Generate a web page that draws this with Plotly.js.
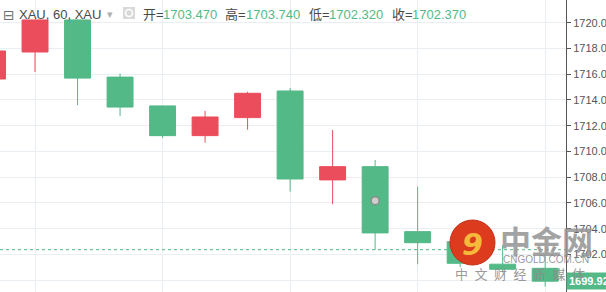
<!DOCTYPE html>
<html>
<head>
<meta charset="utf-8">
<script src="https://cdn.plot.ly/plotly-3.0.1.min.js"></script>
<style>
html,body{margin:0;padding:0;background:#fff;}
#chart{width:606px;height:292px;}
</style>
</head>
<body>
<div id="chart"></div>
<script>
// ---- data (XAU, 60 min candles) ----
var barIndex = [0,1,2,3,4,5,6,7,8,9,10,11,12,13];
var opens  = [1715.63,1717.73,1720.22,1715.78,1713.54,1711.23,1712.63,1714.70,1707.79,1708.82,1703.77,1702.99,1701.24,1700.92];
var highs  = [1718.00,1720.25,1720.25,1716.05,1713.54,1713.15,1714.64,1714.93,1711.67,1709.34,1707.27,1703.10,1702.73,1701.96];
var lows   = [1715.40,1716.18,1713.60,1712.75,1711.05,1710.68,1711.69,1706.88,1705.90,1702.35,1701.24,1701.00,1700.60,1699.50];
var closes = [1717.81,1720.22,1715.70,1713.45,1711.23,1712.68,1714.52,1707.86,1708.82,1703.67,1702.91,1701.31,1700.85,1699.92];
var yTicks = [1700,1702,1704,1706,1708,1710,1712,1714,1716,1718,1720];
var yTickText = ["1700.00","1702.00","1704.00","1706.00","1708.00","1710.00","1712.00","1714.00","1716.00","1718.00","1720.00"];
var xGrid = [1,4,7,10,13];
var header = {symbol:"XAU, 60, XAU", open:"1703.470", high:"1703.740", low:"1702.320", close:"1702.370"};
var lastPrice = 1699.92;
var lastPriceText = "1699.92";
var guidePrice = 1702.37;
var markerBar = [9];
var markerPrice = [1706.18];

var UP = '#eb4d5c', DOWN = '#53b987';
var W = 606, H = 292, PW = 566;
function px(x){ return x/PW; }
function py(y){ return 1 - y/H; }

var traces = [
  {
    type:'candlestick', x:barIndex, open:opens, high:highs, low:lows, close:closes,
    increasing:{line:{color:UP,width:1}, fillcolor:UP},
    decreasing:{line:{color:DOWN,width:1}, fillcolor:DOWN},
    whiskerwidth:0, hoverinfo:'skip', showlegend:false
  },
  {
    type:'scatter', mode:'markers', x:markerBar, y:markerPrice,
    marker:{size:8, color:'#cfcfcf', line:{color:'#8c8c8c', width:1.5}},
    hoverinfo:'skip', showlegend:false
  }
];

var F = 'Liberation Sans, Arial, Noto Sans CJK SC, sans-serif';
var CJK = 'Noto Sans CJK SC, sans-serif';
function hdr(text, xpx, color, size, fam){
  return {xref:'paper', yref:'paper', x:px(xpx), y:py(14.5), xanchor:'left', yanchor:'middle',
    text:text, showarrow:false, font:{family:fam||F, size:size||13, color:color}, borderpad:0};
}
var annotations = [
  hdr('⊟', 2, '#6f6f6f', 14, 'DejaVu Sans'),
  hdr(header.symbol, 18, '#4a4a4a'),
  hdr('▾', 106, '#b0b0b0', 11, 'DejaVu Sans'),
  hdr('开=', 142, '#4a4a4a'),
  hdr(header.open, 162, DOWN),
  hdr('高=', 224, '#4a4a4a'),
  hdr(header.high, 245, DOWN),
  hdr('低=', 308, '#4a4a4a'),
  hdr(header.low, 328, DOWN),
  hdr('收=', 391, '#4a4a4a'),
  hdr(header.close, 411, DOWN),
  // last price label
  {xref:'paper', yref:'y', x:1, y:lastPrice, xanchor:'left', yanchor:'middle', text:'<b>'+lastPriceText+'</b>',
   showarrow:false, bgcolor:DOWN, font:{family:F, size:11, color:'#ffffff'}, borderpad:2, xshift:0},
  // watermark
  {xref:'paper', yref:'paper', x:px(472.5), y:py(244), xanchor:'center', yanchor:'middle', text:'<b><i>9</i></b>',
   showarrow:false, font:{family:'DejaVu Sans', size:30, color:'#f6b93b'}},
  {xref:'paper', yref:'paper', x:px(546.5), y:py(239), xanchor:'center', yanchor:'middle', text:'<b>中金网</b>',
   showarrow:false, font:{family:CJK, size:31, color:'rgba(150,150,150,0.88)'}},
  {xref:'paper', yref:'paper', x:px(546), y:py(259.5), xanchor:'center', yanchor:'middle', text:'CNGOLD.COM.CN',
   showarrow:false, font:{family:F, size:10, color:'rgba(140,140,140,0.9)'}},
  {xref:'paper', yref:'paper', x:px(520), y:py(273), xanchor:'center', yanchor:'middle',
   text:'中\u2002文\u2002财\u2002经\u2002新\u2002媒\u2002体',
   showarrow:false, font:{family:CJK, size:13, color:'rgba(140,140,140,0.9)'}}
];

var shapes = [
  {type:'line', xref:'paper', yref:'y', x0:0, x1:1, y0:guidePrice, y1:guidePrice,
   line:{color:DOWN, width:1, dash:'dot'}},
  // eye icon
  {type:'rect', xref:'paper', yref:'paper', x0:px(123), x1:px(135), y0:py(19), y1:py(7),
   fillcolor:'#d9d9d9', line:{width:0}},
  {type:'circle', xref:'paper', yref:'paper', x0:px(125.5), x1:px(132.5), y0:py(16.5), y1:py(9.5),
   fillcolor:'rgba(0,0,0,0)', line:{color:'#ffffff', width:1.5}},
  // watermark logo disc
  {type:'circle', xref:'paper', yref:'paper', x0:px(450), x1:px(495), y0:py(265), y1:py(220),
   fillcolor:'#dc3b1e', line:{color:'#c42f17', width:1}}
];

var layout = {
  width:W, height:H,
  margin:{l:0, r:W-PW, t:0, b:0, pad:0},
  paper_bgcolor:'#ffffff', plot_bgcolor:'#ffffff',
  showlegend:false,
  boxgap:0.39, boxgroupgap:0,
  xaxis:{range:[0.176,13.49], tickmode:'array', tickvals:xGrid, showticklabels:false, ticks:'',
         showgrid:true, gridcolor:'#e9eef2', gridwidth:1, zeroline:false, showline:false,
         rangeslider:{visible:false}, fixedrange:true},
  yaxis:{side:'right', range:[1699.08,1721.77], tickmode:'array', tickvals:yTicks, ticktext:yTickText,
         showgrid:true, gridcolor:'#e9eef2', gridwidth:1, zeroline:false,
         showline:true, linecolor:'#555555', linewidth:1, ticks:'outside', ticklen:4, tickcolor:'#555555',
         tickfont:{family:F, size:11, color:'#555555'}, fixedrange:true},
  annotations:annotations,
  shapes:shapes
};

Plotly.newPlot('chart', traces, layout, {displayModeBar:false, staticPlot:true});
</script>
</body>
</html>
